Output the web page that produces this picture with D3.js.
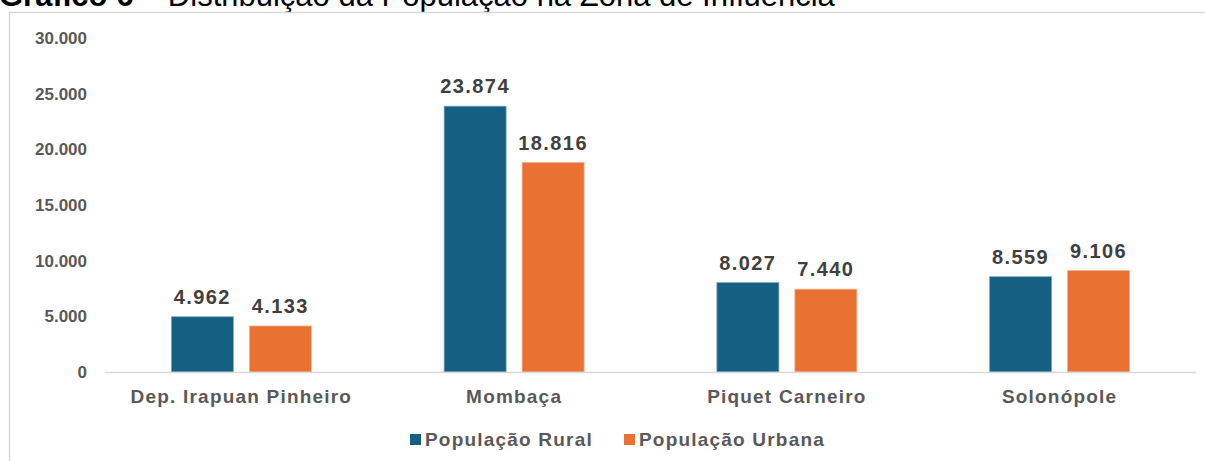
<!DOCTYPE html>
<html>
<head>
<meta charset="utf-8">
<title>Distribuição da População na Zona de Influência</title>
<style>
  body { margin: 0; background: #fff; }
  text { font-family: "Liberation Sans", Arial, sans-serif; }
</style>
</head>
<body>
<script src="https://d3js.org/d3.v7.min.js"></script>
<script>
// data
var municipios = ["Dep. Irapuan Pinheiro", "Mombaça", "Piquet Carneiro", "Solonópole"];
var series = ["População Rural", "População Urbana"];
var rural = [4962, 23874, 8027, 8559];
var urbana = [4133, 18816, 7440, 9106];
var yTicks = [0, 5000, 10000, 15000, 20000, 25000, 30000];
var cores = ["#156082", "#E97132"];

var W = 1205, H = 461;
var svg = d3.select("body").append("svg")
    .attr("width", W).attr("height", H);

// title (cut off at top like the original)
var t = svg.append("text").attr("x", -1).attr("y", 6)
    .attr("font-size", 31).attr("fill", "#000");
t.append("tspan").attr("font-weight", "bold").text("Gráfico 6");
t.append("tspan").text(" – Distribuição da População na Zona de Influência");

// frame
svg.append("rect")
    .attr("x", 9.5).attr("y", 12.5)
    .attr("width", 1220).attr("height", 480)
    .attr("fill", "none").attr("stroke", "#d9d9d9").attr("stroke-width", 1.5);

var x0 = d3.scaleBand().domain(municipios).range([105, 1196]);
var x1 = d3.scaleBand().domain(series).range([0, x0.bandwidth()])
    .paddingInner(0.205).paddingOuter(0.851);
var y = d3.scaleLinear().domain([0, 30000]).range([372, 38]);

var fmt = function(v) { return d3.format(",")(v).replace(/,/g, "."); };

// y axis labels
var yAxis = svg.append("g").attr("transform", "translate(87,0)")
    .call(d3.axisLeft(y).tickValues(yTicks).tickSize(0).tickPadding(0).tickFormat(fmt));
yAxis.select(".domain").remove();
yAxis.selectAll("text")
    .attr("font-size", 17).attr("font-weight", "bold").attr("fill", "#595959")
    .style("font-family", "'Liberation Sans', Arial, sans-serif");

// bars
var rows = municipios.map(function(m, i) {
  return { m: m, vals: [{ s: series[0], v: rural[i] }, { s: series[1], v: urbana[i] }] };
});

var grp = svg.selectAll(".grp").data(rows).enter().append("g")
    .attr("transform", function(d) { return "translate(" + x0(d.m) + ",0)"; });

grp.selectAll("rect").data(function(d) { return d.vals; }).enter().append("rect")
    .attr("x", function(d) { return x1(d.s); })
    .attr("y", function(d) { return y(d.v); })
    .attr("width", x1.bandwidth())
    .attr("height", function(d) { return y(0) - y(d.v); })
    .attr("fill", function(d, i) { return cores[i]; })
    .attr("stroke", function(d, i) { return i == 0 ? "#7fa6b9" : "#f4b08e"; })
    .attr("stroke-width", 0.8);

grp.selectAll(".lbl").data(function(d) { return d.vals; }).enter().append("text")
    .attr("x", function(d) { return x1(d.s) + x1.bandwidth() / 2; })
    .attr("y", function(d) { return y(d.v) - 13; })
    .attr("text-anchor", "middle")
    .attr("font-size", 20).attr("font-weight", "bold").attr("fill", "#404040")
    .attr("letter-spacing", 1.4)
    .text(function(d) { return fmt(d.v); });

// baseline
svg.append("line")
    .attr("x1", x0.range()[0]).attr("x2", x0.range()[1])
    .attr("y1", y(0) + 0.5).attr("y2", y(0) + 0.5)
    .attr("stroke", "#d9d9d9").attr("stroke-width", 1.5);

// category labels
var xAxis = svg.append("g").attr("transform", "translate(0," + y(0) + ")")
    .call(d3.axisBottom(x0).tickSize(0).tickPadding(18));
xAxis.select(".domain").remove();
xAxis.selectAll("text")
    .attr("font-size", 19).attr("font-weight", "bold").attr("fill", "#595959")
    .attr("letter-spacing", 1.2)
    .style("font-family", "'Liberation Sans', Arial, sans-serif");

// legend
var legX = [410, 624];
var leg = svg.selectAll(".leg").data(series).enter().append("g")
    .attr("transform", function(d, i) { return "translate(" + legX[i] + ",434)"; });
leg.append("rect").attr("width", 11).attr("height", 11)
    .attr("fill", function(d, i) { return cores[i]; });
leg.append("text").attr("x", 15).attr("y", 12)
    .attr("font-size", 19).attr("font-weight", "bold").attr("fill", "#595959")
    .attr("letter-spacing", 1.2)
    .text(function(d) { return d; });
</script>
</body>
</html>
